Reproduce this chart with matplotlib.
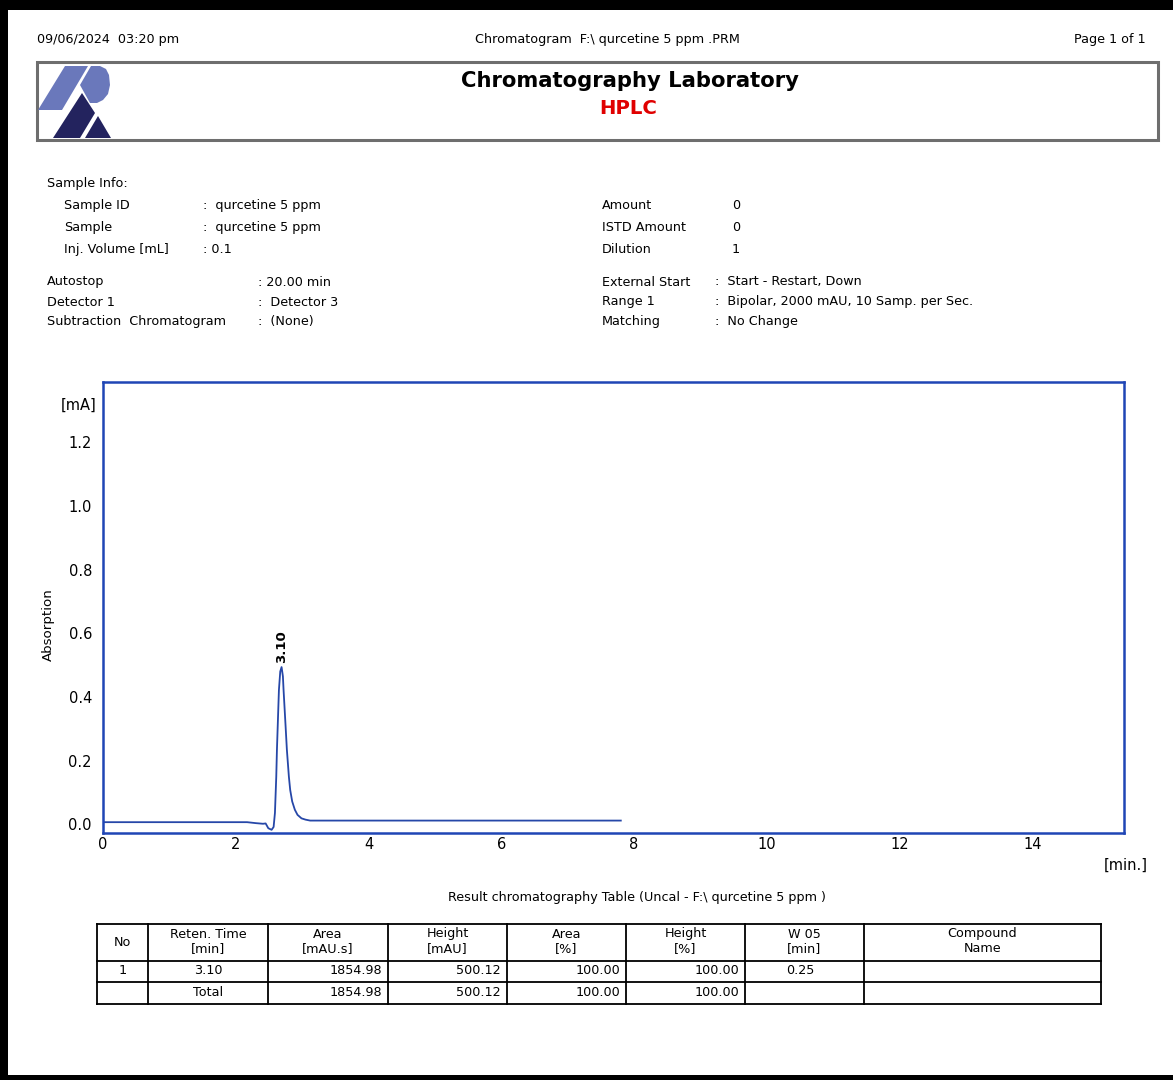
import numpy as np
import matplotlib
matplotlib.use("Agg")
import matplotlib.pyplot as plt
from matplotlib.patches import Rectangle, Polygon
from matplotlib.lines import Line2D

W, H = 1173, 1080

# ---------------- data
rt = [0.0, 1.0, 2.17, 2.30, 2.41, 2.45, 2.49, 2.54, 2.57, 2.59, 2.61, 2.62,
      2.65, 2.67, 2.69, 2.71, 2.72, 2.75, 2.77, 2.80, 2.82, 2.85, 2.89,
      2.93, 2.99, 3.05, 3.12, 5.0, 7.80]
signal = [0.007, 0.007, 0.007, 0.004, 0.002, 0.003, -0.012, -0.017, -0.008,
          0.036, 0.15, 0.234, 0.422, 0.48, 0.494, 0.465, 0.422, 0.31, 0.234,
          0.15, 0.108, 0.072, 0.046, 0.030, 0.019, 0.015, 0.012, 0.012, 0.012]
peak_time = 2.69
peak_value = 0.494
peak_label = "3.10"

x_ticks = [0, 2, 4, 6, 8, 10, 12, 14]
y_ticks = [0.0, 0.2, 0.4, 0.6, 0.8, 1.0, 1.2]

left_info = [("Sample ID", ":  qurcetine 5 ppm"),
             ("Sample", ":  qurcetine 5 ppm"),
             ("Inj. Volume [mL]", ": 0.1")]
run_info = [("Autostop", ": 20.00 min"),
            ("Detector 1", ":  Detector 3"),
            ("Subtraction  Chromatogram", ":  (None)")]
amount_info = [("Amount", "0"), ("ISTD Amount", "0"), ("Dilution", "1")]
method_info = [("External Start", ":  Start - Restart, Down"),
               ("Range 1", ":  Bipolar, 2000 mAU, 10 Samp. per Sec."),
               ("Matching", ":  No Change")]

table_header = [("No", ""), ("Reten. Time", "[min]"), ("Area", "[mAU.s]"),
                ("Height", "[mAU]"), ("Area", "[%]"), ("Height", "[%]"),
                ("W 05", "[min]"), ("Compound", "Name")]
row_peak = ["1", "3.10", "1854.98", "500.12", "100.00", "100.00", "0.25", ""]
row_total = ["", "Total", "1854.98", "500.12", "100.00", "100.00", "", ""]

# ---------------- helpers in pixel coords
def px(x):
    return x / W

def py(y):
    return 1 - y / H

fig = plt.figure(figsize=(W / 100, H / 100), dpi=100)
fig.patch.set_facecolor("white")
plt.rcParams["font.family"] = "DejaVu Sans"

def ftext(x, y, s, **kw):
    kw.setdefault("fontsize", 9.2)
    kw.setdefault("va", "center")
    fig.text(px(x), py(y), s, **kw)

def fline(xs, ys, **kw):
    kw.setdefault("color", "black")
    kw.setdefault("lw", 1.3)
    fig.add_artist(Line2D([px(v) for v in xs], [py(v) for v in ys],
                          transform=fig.transFigure, **kw))

# black page frame (left, top, bottom)
for r in [(0, 0, 8, H), (0, 0, W, 10), (0, H - 5, W, 5)]:
    fig.add_artist(Rectangle((px(r[0]), py(r[1] + r[3])), r[2] / W, r[3] / H,
                             transform=fig.transFigure, color="black", lw=0))

# page header
ftext(37, 40, "09/06/2024  03:20 pm")
ftext(607, 40, "Chromatogram  F:\\ qurcetine 5 ppm .PRM", ha="center")
ftext(1146, 40, "Page 1 of 1", ha="right")

# title box
fig.add_artist(Rectangle((px(37), py(140)), (1158 - 37) / W, 78 / H,
                         transform=fig.transFigure, fill=False,
                         edgecolor="#6e6e6e", lw=2.2))
ftext(630, 81, "Chromatography Laboratory", ha="center", fontsize=15.2,
      fontweight="bold")
ftext(628, 108, "HPLC", ha="center", fontsize=14.2, fontweight="bold",
      color="#e00000")

# logo
light = "#6a78bb"
dark = "#23235e"
logo_shapes = [
    ([(38, 110), (65, 66), (88, 66), (62, 110)], light),
    ([(91, 66), (100, 66), (106, 69), (109, 75), (110, 85), (108, 94),
      (103, 100), (97, 103), (90, 103), (80, 85)], light),
    ([(53, 138), (82, 93), (95, 113), (80, 138)], dark),
    ([(85, 138), (98, 116), (111, 138)], dark),
]
for pts, c in logo_shapes:
    fig.add_artist(Polygon([(px(a), py(b)) for a, b in pts], closed=True,
                           transform=fig.transFigure, color=c, lw=0))

# sample info block
ftext(47, 183, "Sample Info:")
for i, (k, v) in enumerate(left_info):
    ftext(64, 205 + 22 * i, k)
    ftext(203, 205 + 22 * i, v)
for i, (k, v) in enumerate(run_info):
    ftext(47, 282 + 20 * i, k)
    ftext(258, 282 + 20 * i, v)
for i, (k, v) in enumerate(amount_info):
    ftext(602, 205 + 22 * i, k)
    ftext(732, 205 + 22 * i, v)
for i, (k, v) in enumerate(method_info):
    ftext(602, 282 + 20 * i, k)
    ftext(715, 282 + 20 * i, v)

# ---------------- chromatogram
blue = "#1f45b5"
ax = fig.add_axes([px(103), py(833), (1124 - 103) / W, (833 - 382) / H])
ax.plot(rt, signal, color="#2647a8", lw=1.3)
ax.set_xlim(0, 15.38)
ax.set_ylim(-0.027, 1.389)
ax.set_xticks(x_ticks)
ax.set_xticklabels([str(t) for t in x_ticks])
ax.set_yticks(y_ticks)
ax.set_yticklabels(["%.1f" % t for t in y_ticks])
ax.tick_params(axis="x", length=0, labelsize=10.5, pad=3)
ax.tick_params(axis="y", length=0, labelsize=10.5, pad=8)
for s in ax.spines.values():
    s.set_color(blue)
    s.set_linewidth(1.8)
ax.text(peak_time, peak_value + 0.012, peak_label, rotation=90, ha="center",
        va="bottom", fontsize=9.5, fontweight="bold")

ftext(97, 405, "[mA]", ha="right", fontsize=10.5)
ftext(48, 625, "Absorption", ha="center", rotation=90, fontsize=9.6)
ftext(1148, 865, "[min.]", ha="right", fontsize=10.5)

# ---------------- results table
ftext(637, 897, "Result chromatography Table (Uncal - F:\\ qurcetine 5 ppm )",
      ha="center")
col_x = [97, 148, 268, 388, 507, 626, 745, 864, 1101]
row_y = [924, 961, 982, 1004]
for x in col_x:
    fline([x, x], [row_y[0], row_y[-1]])
for y in row_y:
    fline([col_x[0], col_x[-1]], [y, y])

align = ["center", "center", "right", "right", "right", "right", "center",
         "center"]
for j, (h1, h2) in enumerate(table_header):
    cx = (col_x[j] + col_x[j + 1]) / 2
    if h2:
        ftext(cx, 934, h1, ha="center")
        ftext(cx, 949, h2, ha="center")
    else:
        ftext(cx, 943, h1, ha="center")

for row, y in [(row_peak, 970), (row_total, 992)]:
    for j, val in enumerate(row):
        if not val:
            continue
        if align[j] == "right":
            ftext(col_x[j + 1] - 6, y, val, ha="right")
        elif j == 6:
            ftext(800, y, val, ha="center")
        else:
            ftext((col_x[j] + col_x[j + 1]) / 2, y, val, ha="center")

fig.savefig("out.png", dpi=100)
